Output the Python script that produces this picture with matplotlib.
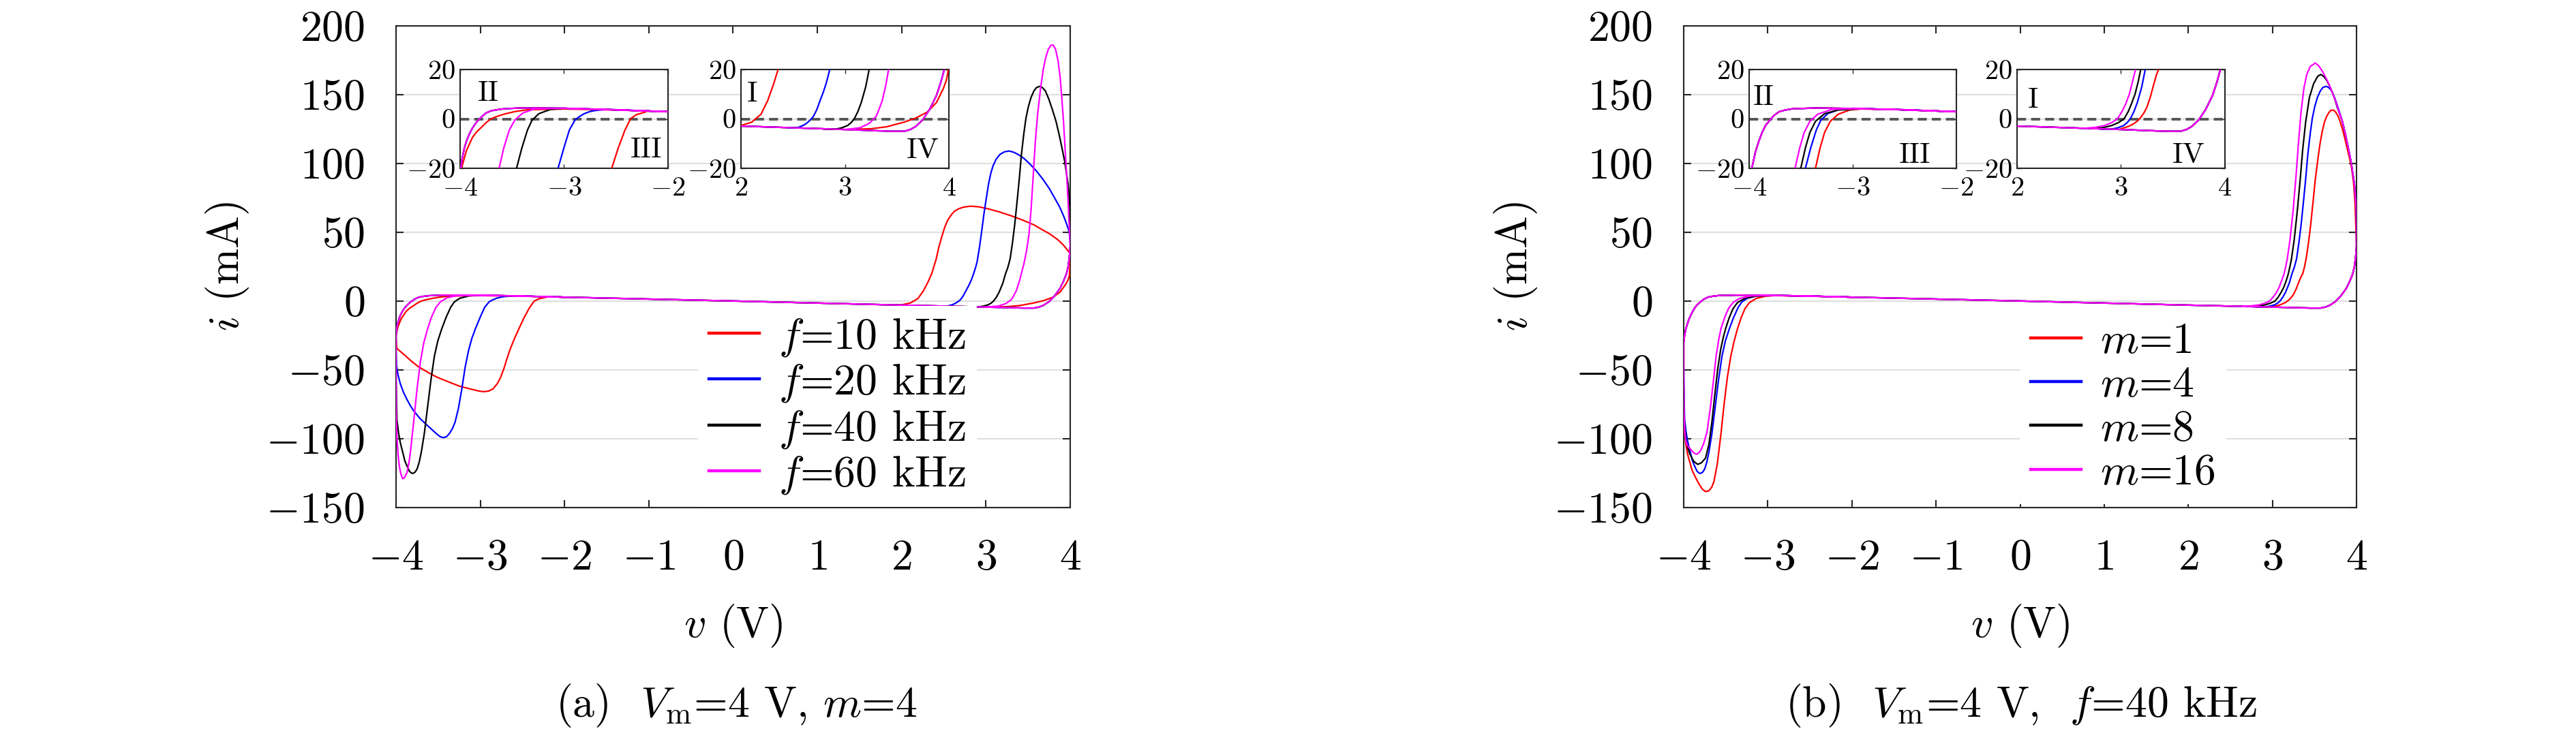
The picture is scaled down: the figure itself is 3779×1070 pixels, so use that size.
import numpy as np
import matplotlib
matplotlib.use("Agg")
import matplotlib.pyplot as plt

plt.rcParams.update({
    "font.family": "serif",
    "font.serif": ["cmr10"],
    "mathtext.fontset": "cm",
    "axes.formatter.use_mathtext": True,
})

# ---------------- data (v in V, i in mA) ----------------
FLAT_V = [-2.2, -2.0, -1.0, 0.0, 1.0, 2.0]
FLAT_I = [3.2, 2.9, 1.5, 0.1, -1.4, -2.9]

# upper-left branches (v decreasing from -2 to -4)
A_UL_V = [-2.0, -2.5, -3.0, -3.2, -3.44, -3.6, -3.70, -3.75, -3.79, -3.84, -3.88, -3.91, -3.94, -3.96, -3.98, -3.99, -4.0]
A_UL_I = [2.9, 3.7, 4.3, 4.4, 4.4, 4.0, 3.3, 2.4, 1.0, -1.2, -3.6, -6.0, -9.1, -12.0, -16.0, -19.0, -25.0]
A_RED_UL_V = [-2.0, -2.5, -3.0, -3.35, -3.47, -3.57, -3.64, -3.70, -3.75, -3.79, -3.84, -3.88, -3.94, -3.98, -4.0]
A_RED_UL_I = [2.9, 3.6, 4.0, 3.7, 3.0, 2.0, 1.1, 0.1, -1.5, -3.2, -5.2, -7.4, -12.9, -19.0, -25.0]
B_UL_V = [-2.0, -2.5, -3.0, -3.36, -3.579, -3.65, -3.711, -3.76, -3.798, -3.842, -3.875, -3.908, -3.94, -3.974, -3.99, -4.0]
B_UL_I = [2.9, 3.7, 4.2, 4.4, 4.1, 3.6, 2.9, 1.4, -0.4, -2.7, -5.5, -9.2, -13.5, -20.0, -25.0, -30.0]

# lower-right branches (v increasing to 4)
LR_V = [2.5, 3.0, 3.3, 3.45, 3.573, 3.63, 3.68, 3.748, 3.814, 3.88, 3.923, 3.956, 3.975, 3.99, 4.0]
LR_I = [-3.6, -4.3, -4.8, -5.0, -5.0, -4.3, -3.1, -0.4, 3.8, 9.4, 14.9, 20.0, 25.0, 32.0, 40.0]
A_RED_LR_V = [2.5, 3.0, 3.25, 3.4, 3.57, 3.68, 3.79, 3.88, 3.945, 3.975, 3.99, 4.0]
A_RED_LR_I = [-3.6, -4.3, -4.0, -3.2, -1.3, 0.3, 2.7, 6.6, 12.1, 15.5, 18.6, 28.0]

# (a) negative-side dips (v increasing from -4)
A_RED_DIP_V = [-4.0, -3.995, -3.989, -3.94, -3.895, -3.82, -3.734, -3.62, -3.52, -3.38, -3.25, -3.12, -3.02, -2.96, -2.90, -2.85, -2.80, -2.76, -2.72, -2.68, -2.64, -2.59, -2.534, -2.48, -2.414, -2.36, -2.305, -2.218]
A_RED_DIP_I = [-27, -31, -34.5, -37, -39.4, -43.5, -47.7, -51.8, -55.1, -58.6, -61.7, -63.8, -65.3, -65.8, -65.3, -63.8, -60.1, -55.5, -49, -41, -34, -26.5, -19, -11.9, -4.5, 0.1, 1.7, 2.8]
A_BLUE_DIP_V = [-4.0, -3.995, -3.975, -3.949, -3.91, -3.869, -3.83, -3.788, -3.72, -3.654, -3.58, -3.52, -3.475, -3.439, -3.40, -3.365, -3.33, -3.30, -3.26, -3.22, -3.18, -3.14, -3.10, -3.058, -3.003, -2.949, -2.894, -2.85, -2.807, -2.75, -2.698, -2.6]
A_BLUE_DIP_I = [-35, -46.9, -54, -60.1, -66.5, -71.6, -76, -79.9, -85, -88.9, -93, -96.4, -98.5, -99.2, -98.5, -96, -92.5, -88, -78, -64, -48, -36, -27, -20, -11.9, -4.5, -0.4, 1.0, 2.1, 3.0, 3.4, 3.8]
A_BLACK_DIP_V = [-4.0, -3.998, -3.995, -3.989, -3.97, -3.949, -3.92, -3.895, -3.865, -3.841, -3.82, -3.80, -3.775, -3.75, -3.725, -3.70, -3.665, -3.625, -3.585, -3.545, -3.505, -3.457, -3.407, -3.352, -3.309, -3.243, -3.134, -3.0, -2.6]
A_BLACK_DIP_I = [-45, -60, -72, -86.5, -96, -103, -110, -116.2, -120.5, -123.6, -124.8, -125.2, -124.3, -121.9, -117, -109.6, -96.4, -76.6, -56.8, -40, -29, -20, -11.9, -4.5, -0.6, 2.1, 3.8, 4.3, 3.8]
A_MAG_DIP_V = [-4.0, -3.998, -3.995, -3.989, -3.975, -3.962, -3.945, -3.922, -3.90, -3.87, -3.85, -3.83, -3.79, -3.75, -3.71, -3.67, -3.625, -3.581, -3.527, -3.472, -3.396, -3.287, -3.0, -2.6]
A_MAG_DIP_I = [-55, -75, -88, -99.7, -112, -119.5, -125, -129, -128.3, -124.5, -118.5, -110, -87, -63.4, -43.6, -30, -20, -11.9, -4.5, -0.4, 2.4, 4.0, 4.3, 3.8]

# (a) positive-side humps (v decreasing from 4)
A_RED_HUMP_V = [4.0, 3.988, 3.921, 3.85, 3.759, 3.66, 3.57, 3.44, 3.30, 3.16, 3.031, 2.92, 2.815, 2.734, 2.68, 2.626, 2.59, 2.545, 2.51, 2.478, 2.44, 2.41, 2.357, 2.313, 2.258, 2.193, 2.105, 2.0]
A_RED_HUMP_I = [33, 35.6, 40.6, 44.8, 48.8, 52.2, 55.4, 58.8, 62.0, 64.8, 67.0, 68.5, 69.0, 68.3, 67.2, 65.3, 62.8, 58.7, 53.5, 47.2, 39, 30.7, 20, 14, 7.5, 1.9, -1.3, -2.7]
A_BLUE_HUMP_V = [4.0, 3.988, 3.955, 3.921, 3.87, 3.813, 3.75, 3.678, 3.60, 3.516, 3.45, 3.381, 3.33, 3.273, 3.22, 3.166, 3.12, 3.085, 3.058, 3.031, 3.005, 2.977, 2.95, 2.923, 2.895, 2.875, 2.854, 2.835, 2.817, 2.79, 2.762, 2.73, 2.697, 2.665, 2.631, 2.60, 2.543, 2.45]
A_BLUE_HUMP_I = [42, 50.5, 56.5, 62, 69, 75.2, 82, 88.4, 94.5, 100, 103.8, 106.6, 108.2, 109.1, 108.5, 106.6, 103, 98.4, 93, 85.1, 75, 63.7, 51, 39, 28.5, 24, 20, 16.8, 14, 10.6, 7.5, 3.8, 1.0, -0.5, -1.8, -2.6, -3.6, -3.5]
A_BLACK_HUMP_V = [4.0, 3.996, 3.975, 3.934, 3.90, 3.867, 3.83, 3.786, 3.745, 3.705, 3.67, 3.638, 3.60, 3.570, 3.535, 3.503, 3.475, 3.449, 3.42, 3.395, 3.368, 3.341, 3.314, 3.287, 3.26, 3.233, 3.2, 3.157, 3.125, 3.091, 3.06, 3.025, 2.97, 2.916, 2.8]
A_BLACK_HUMP_I = [55, 68.6, 85.1, 101.6, 112, 121.5, 131, 139.6, 147, 152.8, 155.2, 156.1, 155.2, 152.8, 148, 141.2, 133, 121.5, 106, 88.4, 71.5, 55.4, 42, 30.7, 24.5, 20, 13, 6.6, 3.0, 0.1, -1.5, -2.7, -3.6, -4.1, -4.1]
A_MAG_HUMP_V = [4.0, 3.988, 3.975, 3.961, 3.94, 3.921, 3.90, 3.880, 3.855, 3.826, 3.80, 3.773, 3.74, 3.705, 3.68, 3.651, 3.612, 3.585, 3.56, 3.535, 3.51, 3.48, 3.45, 3.42, 3.395, 3.36, 3.325, 3.30, 3.235, 3.145, 3.0]
A_MAG_HUMP_I = [42, 55, 72, 88, 110, 130, 148, 163, 175, 183, 186, 186, 183, 176, 168, 156, 135, 115, 90, 66, 48, 36, 27, 20, 14, 7.5, 3.5, 1.0, -1.8, -3.6, -4.3]

# (b) dips
B_RED_DIP_V = [-4.0, -3.997, -3.99, -3.975, -3.954, -3.901, -3.86, -3.82, -3.78, -3.74, -3.70, -3.665, -3.64, -3.60, -3.56, -3.52, -3.48, -3.44, -3.40, -3.36, -3.316, -3.272, -3.217, -3.14, -3.03, -2.92, -2.6]
B_RED_DIP_I = [-60, -80, -95, -104, -111.2, -122.8, -128, -132.7, -136.5, -138.4, -137.8, -135, -131, -118, -98, -75, -55, -40, -29, -20, -11.9, -5.5, -1.0, 1.9, 3.6, 4.0, 3.8]
B_BLACK_DIP_V = [-4.0, -3.997, -3.99, -3.975, -3.95, -3.927, -3.88, -3.833, -3.79, -3.74, -3.70, -3.665, -3.63, -3.595, -3.56, -3.53, -3.502, -3.458, -3.414, -3.36, -3.272, -3.14, -2.9, -2.6]
B_BLACK_DIP_I = [-55, -75, -90, -100, -107, -111.2, -116.5, -118.6, -117.5, -114, -104, -88, -68, -49, -35, -26.5, -20, -11.9, -5.5, -1.0, 2.1, 3.6, 4.1, 3.8]
B_MAG_DIP_V = [-4.0, -3.998, -3.992, -3.981, -3.96, -3.914, -3.88, -3.847, -3.82, -3.793, -3.76, -3.723, -3.682, -3.645, -3.615, -3.585, -3.557, -3.513, -3.469, -3.414, -3.338, -3.206, -3.0, -2.6]
B_MAG_DIP_I = [-55, -75, -90, -99.7, -104.5, -107.9, -110.3, -111.2, -110.3, -107.9, -103, -95, -77, -57, -40, -28.5, -20, -11.9, -5.5, -1.0, 1.9, 3.8, 4.2, 3.8]

# (b) humps
B_RED_HUMP_V = [4.0, 3.996, 3.982, 3.965, 3.942, 3.915, 3.887, 3.86, 3.834, 3.805, 3.779, 3.75, 3.725, 3.70, 3.672, 3.645, 3.617, 3.59, 3.563, 3.537, 3.510, 3.483, 3.455, 3.428, 3.401, 3.38, 3.361, 3.34, 3.31, 3.28, 3.25, 3.223, 3.194, 3.16, 3.12, 3.076, 3.0]
B_RED_HUMP_I = [40, 47.2, 71.9, 86, 96.7, 104.5, 111.5, 118.5, 124.8, 130.5, 134.7, 137.5, 138.8, 138.8, 137.1, 134.2, 129.7, 122.5, 113.2, 101.5, 88.4, 72, 55.4, 42, 30.7, 24.5, 20, 17.7, 13.2, 8.5, 4.8, 2.6, 0.8, -0.8, -2.0, -3.0, -4.0]
B_BLACK_HUMP_V = [4.0, 3.996, 3.975, 3.934, 3.90, 3.867, 3.83, 3.77, 3.73, 3.69, 3.65, 3.615, 3.577, 3.54, 3.49, 3.44, 3.395, 3.36, 3.33, 3.295, 3.26, 3.225, 3.19, 3.165, 3.135, 3.10, 3.07, 3.03, 2.975, 2.91, 2.82, 2.7]
B_BLACK_HUMP_I = [55, 68.6, 85.1, 101.6, 112, 121.5, 131, 141, 149, 155, 160, 163, 164.7, 163.5, 158, 148, 130, 110, 88, 65, 45, 30, 20, 15, 10, 6, 3, 0, -1.5, -2.7, -3.6, -4.0]
B_MAG_HUMP_V = [4.0, 3.996, 3.975, 3.934, 3.90, 3.867, 3.83, 3.79, 3.75, 3.71, 3.67, 3.63, 3.59, 3.55, 3.51, 3.45, 3.41, 3.375, 3.34, 3.31, 3.28, 3.245, 3.21, 3.175, 3.14, 3.11, 3.08, 3.045, 3.01, 2.965, 2.91, 2.842, 2.754, 2.65]
B_MAG_HUMP_I = [55, 68.6, 85.1, 101.6, 112, 121.5, 131, 138, 145.5, 152, 158, 163, 167.5, 171, 173, 170.5, 165, 155, 137, 115, 90, 65, 45, 30, 20, 15, 10, 6, 3, 0, -1.5, -2.7, -3.4, -3.8]

LABELS_A = ["$f$=10 kHz", "$f$=20 kHz", "$f$=40 kHz", "$f$=60 kHz"]
LABELS_B = ["$m$=1", "$m$=4", "$m$=8", "$m$=16"]
COLORS = ["#ff0000", "#0000ff", "#000000", "#ff00ff"]

X_TICKS = [-4, -3, -2, -1, 0, 1, 2, 3, 4]
Y_TICKS = [-150, -100, -50, 0, 50, 100, 150, 200]


def loop(ul_v, ul_i, dip_v, dip_i, lr_v, lr_i, hump_v, hump_i):
    v = np.concatenate([ul_v, dip_v, FLAT_V, lr_v, hump_v])
    i = np.concatenate([ul_i, dip_i, FLAT_I, lr_i, hump_i])
    return v, i


CURVES_A = [
    loop(A_RED_UL_V, A_RED_UL_I, A_RED_DIP_V, A_RED_DIP_I, A_RED_LR_V, A_RED_LR_I, A_RED_HUMP_V, A_RED_HUMP_I),
    loop(A_UL_V, A_UL_I, A_BLUE_DIP_V, A_BLUE_DIP_I, LR_V, LR_I, A_BLUE_HUMP_V, A_BLUE_HUMP_I),
    loop(A_UL_V, A_UL_I, A_BLACK_DIP_V, A_BLACK_DIP_I, LR_V, LR_I, A_BLACK_HUMP_V, A_BLACK_HUMP_I),
    loop(A_UL_V, A_UL_I, A_MAG_DIP_V, A_MAG_DIP_I, LR_V, LR_I, A_MAG_HUMP_V, A_MAG_HUMP_I),
]
CURVES_B = [
    loop(B_UL_V, B_UL_I, B_RED_DIP_V, B_RED_DIP_I, LR_V, LR_I, B_RED_HUMP_V, B_RED_HUMP_I),
    loop(B_UL_V, B_UL_I, A_BLACK_DIP_V, A_BLACK_DIP_I, LR_V, LR_I, A_BLACK_HUMP_V, A_BLACK_HUMP_I),
    loop(B_UL_V, B_UL_I, B_BLACK_DIP_V, B_BLACK_DIP_I, LR_V, LR_I, B_BLACK_HUMP_V, B_BLACK_HUMP_I),
    loop(B_UL_V, B_UL_I, B_MAG_DIP_V, B_MAG_DIP_I, LR_V, LR_I, B_MAG_HUMP_V, B_MAG_HUMP_I),
]

W, H = 3780, 1070
fig = plt.figure(figsize=(W / 100, H / 100), dpi=100)


def px_rect(x0, x1, y0, y1):
    return [x0 / W, 1 - y1 / H, (x1 - x0) / W, (y1 - y0) / H]


SPINE = "#262626"
GRID = "#e0e0e0"


def main_axes(rect, curves, labels, leg_x, leg_y):
    ax = fig.add_axes(rect)
    for (v, i), c, lab in zip(curves, COLORS, labels):
        ax.plot(v, i, color=c, lw=1.6, label=lab, zorder=3)
    ax.set_xlim(-4, 4)
    ax.set_ylim(-150, 200)
    ax.set_xticks(X_TICKS)
    ax.set_yticks(Y_TICKS)
    ax.grid(axis="y", color=GRID, lw=1.6)
    ax.set_axisbelow(True)
    for s in ax.spines.values():
        s.set_color(SPINE)
        s.set_linewidth(1.5)
    ax.tick_params(direction="in", length=8, width=1.5, top=True, right=True,
                   labelsize=46, pad=33, colors=SPINE, labelcolor="black")
    ax.set_xlabel(r"$v$ (V)", fontsize=46)
    ax.xaxis.set_label_coords(0.5, -0.245)
    ax.xaxis.label.set_va("center")
    ax.set_ylabel(r"$i$ (mA)", fontsize=46)
    ax.yaxis.set_label_coords(-0.25, 0.5)
    ax.yaxis.label.set_va("center")
    leg = ax.legend(loc="center", bbox_to_anchor=(leg_x, leg_y), fontsize=46,
                    frameon=True, facecolor="white", edgecolor="none", framealpha=1,
                    fancybox=False, handlelength=1.16, handletextpad=0.44,
                    labelspacing=0.1, borderpad=0.25, borderaxespad=0)
    for ln in leg.get_lines():
        ln.set_linewidth(3.2)
    return ax


def inset(rect, curves, xlim, xticks, tags):
    ax = fig.add_axes(rect)
    ax.set_facecolor("white")
    for (v, i), c in zip(curves, COLORS):
        ax.plot(v, i, color=c, lw=1.6, zorder=3)
    ax.axhline(0, color="#555555", lw=2.8, ls=(0, (3.4, 1.9)), zorder=2)
    ax.set_xlim(*xlim)
    ax.set_ylim(-20, 20)
    ax.set_xticks(xticks)
    ax.set_yticks([-20, 0, 20])
    ax.grid(axis="y", color=GRID, lw=1.6)
    ax.set_axisbelow(True)
    for s in ax.spines.values():
        s.set_color(SPINE)
        s.set_linewidth(1.5)
    ax.tick_params(direction="in", length=4, width=1.0, top=True, right=True,
                   labelsize=29, colors=SPINE, labelcolor="black")
    ax.tick_params(axis="y", pad=5)
    ax.tick_params(axis="x", pad=9)
    for (tx, ty, s) in tags:
        ax.text(tx, ty, s, fontsize=31, ha="center", va="center")
    return ax


main_axes(px_rect(581, 1570, 38, 745), CURVES_A, LABELS_A, 0.655, 0.21)
main_axes(px_rect(2470, 3457, 38, 745), CURVES_B, LABELS_B, 0.653, 0.207)

inset(px_rect(675, 980, 102, 247), CURVES_A, (-4, -2), [-4, -3, -2],
      [(-3.73, 10.3, "II"), (-2.21, -12.7, "III")])
inset(px_rect(1087, 1392, 102, 247), CURVES_A, (2, 4), [2, 3, 4],
      [(2.11, 10.1, "I"), (3.75, -13.0, "IV")])
inset(px_rect(2566, 2870, 102, 247), CURVES_B, (-4, -2), [-4, -3, -2],
      [(-3.86, 8.7, "II"), (-2.40, -14.9, "III")])
inset(px_rect(2959, 3264, 102, 247), CURVES_B, (2, 4), [2, 3, 4],
      [(2.155, 7.6, "I"), (3.65, -14.9, "IV")])

fig.text(1080 / W, 1 - 1035 / H, r"(a)  $V_{\mathrm{m}}$=4 V, $m$=4",
         fontsize=46, ha="center", va="center")
fig.text(2965 / W, 1 - 1035 / H, r"(b)  $V_{\mathrm{m}}$=4 V,  $f$=40 kHz",
         fontsize=46, ha="center", va="center")

fig.savefig("out.png", dpi=100)
